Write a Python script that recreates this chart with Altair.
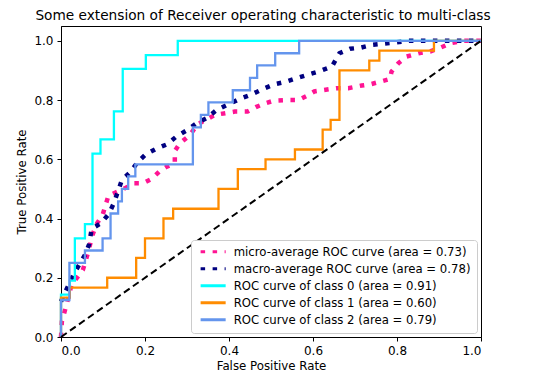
import altair as alt
import pandas as pd

# ---- data ----
series_names = [
    "micro-average ROC curve (area = 0.73)",
    "macro-average ROC curve (area = 0.78)",
    "ROC curve of class 0 (area = 0.91)",
    "ROC curve of class 1 (area = 0.60)",
    "ROC curve of class 2 (area = 0.79)",
]
series_colors = ["deeppink", "navy", "aqua", "darkorange", "cornflowerblue"]
series_widths = [4.5, 4.5, 2.3, 2.3, 2.3]

micro_fpr = [0.0, 0.002, 0.014, 0.025, 0.052, 0.065, 0.075, 0.086, 0.099, 0.105, 0.113, 0.152,
             0.172, 0.195, 0.216, 0.236, 0.252, 0.271, 0.271, 0.283, 0.307, 0.325, 0.345, 0.367,
             0.414, 0.444, 0.464, 0.486, 0.507, 0.536, 0.565, 0.585, 0.603, 0.655, 0.684, 0.716,
             0.736, 0.76, 0.783, 0.787, 0.803, 0.823, 0.851, 0.879, 0.902, 0.93, 0.958, 0.99, 1.0]
micro_tpr = [0.0, 0.052, 0.114, 0.176, 0.226, 0.288, 0.345, 0.384, 0.412, 0.44, 0.477, 0.502,
             0.519, 0.519, 0.534, 0.561, 0.575, 0.587, 0.628, 0.654, 0.682, 0.718, 0.733, 0.75,
             0.761, 0.761, 0.776, 0.789, 0.798, 0.80, 0.80, 0.814, 0.829, 0.84, 0.84, 0.849,
             0.853, 0.862, 0.871, 0.896, 0.924, 0.947, 0.958, 0.964, 0.976, 0.993, 1.0, 1.0, 1.0]

macro_fpr = [0.0, 0.007, 0.029, 0.057, 0.067, 0.073, 0.095, 0.113, 0.126, 0.145, 0.166, 0.182,
             0.202, 0.226, 0.253, 0.275, 0.301, 0.323, 0.347, 0.371, 0.426, 0.452, 0.48, 0.507,
             0.536, 0.561, 0.591, 0.613, 0.645, 0.663, 0.688, 0.714, 0.74, 0.767, 0.8, 0.827,
             0.859, 1.0]
macro_tpr = [0.12, 0.142, 0.209, 0.277, 0.313, 0.365, 0.384, 0.414, 0.452, 0.53, 0.558, 0.59,
             0.617, 0.635, 0.651, 0.677, 0.699, 0.722, 0.739, 0.767, 0.804, 0.818, 0.837, 0.853,
             0.862, 0.874, 0.887, 0.896, 0.913, 0.958, 0.973, 0.977, 0.986, 0.99, 0.995, 1.0,
             1.0, 1.0]

class0_fpr = [0.0, 0.0, 0.021, 0.021, 0.033, 0.033, 0.057, 0.057, 0.075, 0.075, 0.094, 0.094,
              0.126, 0.126, 0.147, 0.147, 0.202, 0.202, 0.278, 0.278, 1.0]
class0_tpr = [0.0, 0.143, 0.143, 0.19, 0.19, 0.333, 0.333, 0.381, 0.381, 0.619, 0.619, 0.667,
              0.667, 0.762, 0.762, 0.905, 0.905, 0.952, 0.952, 1.0, 1.0]

class1_fpr = [0.0, 0.0, 0.021, 0.021, 0.11, 0.11, 0.179, 0.179, 0.2, 0.2, 0.244, 0.244, 0.267,
              0.267, 0.375, 0.375, 0.421, 0.421, 0.487, 0.487, 0.557, 0.557, 0.623, 0.623, 0.642,
              0.642, 0.663, 0.663, 0.734, 0.734, 0.758, 0.758, 0.888, 0.888, 1.0]
class1_tpr = [0.0, 0.133, 0.133, 0.167, 0.167, 0.2, 0.2, 0.267, 0.267, 0.333, 0.333, 0.4, 0.4,
              0.433, 0.433, 0.5, 0.5, 0.567, 0.567, 0.6, 0.6, 0.633, 0.633, 0.7, 0.7,
              0.733, 0.733, 0.9, 0.9, 0.933, 0.933, 0.967, 0.967, 1.0, 1.0]

class2_fpr = [0.0, 0.0, 0.02, 0.02, 0.057, 0.057, 0.099, 0.099, 0.118, 0.118, 0.136, 0.136,
              0.145, 0.145, 0.16, 0.16, 0.177, 0.177, 0.314, 0.314, 0.333, 0.333, 0.351, 0.351,
              0.409, 0.409, 0.45, 0.45, 0.467, 0.467, 0.51, 0.51, 0.567, 0.567, 1.0]
class2_tpr = [0.0, 0.125, 0.125, 0.25, 0.25, 0.292, 0.292, 0.333, 0.333, 0.417, 0.417, 0.458,
              0.458, 0.5, 0.5, 0.542, 0.542, 0.583, 0.583, 0.708, 0.708, 0.75, 0.75, 0.792,
              0.792, 0.833, 0.833, 0.875, 0.875, 0.917, 0.917, 0.958, 0.958, 1.0, 1.0]

diag_x = [0.0, 1.0]
diag_y = [0.0, 1.0]

x_ticks = [0.0, 0.2, 0.4, 0.6, 0.8, 1.0]
y_ticks = [0.0, 0.2, 0.4, 0.6, 0.8, 1.0]

# ---- build table ----
rows = []
all_fpr = [micro_fpr, macro_fpr, class0_fpr, class1_fpr, class2_fpr]
all_tpr = [micro_tpr, macro_tpr, class0_tpr, class1_tpr, class2_tpr]
for name, lw, fx, ty in zip(series_names, series_widths, all_fpr, all_tpr):
    for i, (a, b) in enumerate(zip(fx, ty)):
        rows.append({"series": name, "lw": lw, "fpr": a, "tpr": b, "order": i})
df = pd.DataFrame(rows)
diag = pd.DataFrame({"fpr": diag_x, "tpr": diag_y})

FONT = "DejaVu Sans"

x_enc = alt.X("fpr:Q", scale=alt.Scale(domain=[0, 1], nice=False, zero=False),
              axis=alt.Axis(title="False Positive Rate", values=x_ticks, format=".1f"))
y_enc = alt.Y("tpr:Q", scale=alt.Scale(domain=[0, 1.05], nice=False, zero=False),
              axis=alt.Axis(title="True Positive Rate", values=y_ticks, format=".1f"))

legend = alt.Legend(
    title=None, orient="bottom-right", offset=4, symbolType="M-1,0H10.2", symbolSize=20,
    symbolStrokeWidth=3,
    fillColor="white", strokeColor="#cccccc", cornerRadius=3, padding=6,
    labelFontSize=11.7, labelFont=FONT, labelColor="black", rowPadding=3, labelOffset=25,
    labelLimit=0,
)

lines = alt.Chart(df).mark_line(strokeCap="butt", interpolate="linear").encode(
    x=x_enc,
    y=y_enc,
    order="order:Q",
    color=alt.Color("series:N", scale=alt.Scale(domain=series_names, range=series_colors),
                    legend=legend, sort=series_names),
    strokeDash=alt.StrokeDash("series:N", scale=alt.Scale(
        domain=series_names, range=[[4.5, 7.5], [4.5, 7.5], [1, 0], [1, 0], [1, 0]]),
        legend=legend, sort=series_names),
    strokeWidth=alt.StrokeWidth("lw:Q", scale=None, legend=None),
)

diag_line = alt.Chart(diag).mark_line(color="black", strokeDash=[7, 4], strokeWidth=2,
                                      strokeCap="butt").encode(x="fpr:Q", y="tpr:Q")

chart = alt.layer(lines, diag_line).properties(
    width=420, height=311,
    title=alt.TitleParams("Some extension of Receiver operating characteristic to multi-class",
                          fontSize=13.7, font=FONT, fontWeight="normal", color="black", offset=3,
                          dx=-8),
    autosize=alt.AutoSizeParams(type="none"),
    padding={"left": 53, "top": 18, "right": 51, "bottom": 36},
).configure_view(stroke="black", strokeWidth=1).configure_axis(
    grid=False, domainColor="black", tickColor="black", tickSize=4, labelFont=FONT,
    labelFontSize=12, labelColor="black", titleFont=FONT, titleFontSize=11.8,
    titleFontWeight="normal", titleColor="black", labelPadding=4,
).configure_axisX(titlePadding=4, labelPadding=4).configure_axisY(titlePadding=6)

chart.save("out.html", embed_options={"renderer": "svg", "actions": False})
